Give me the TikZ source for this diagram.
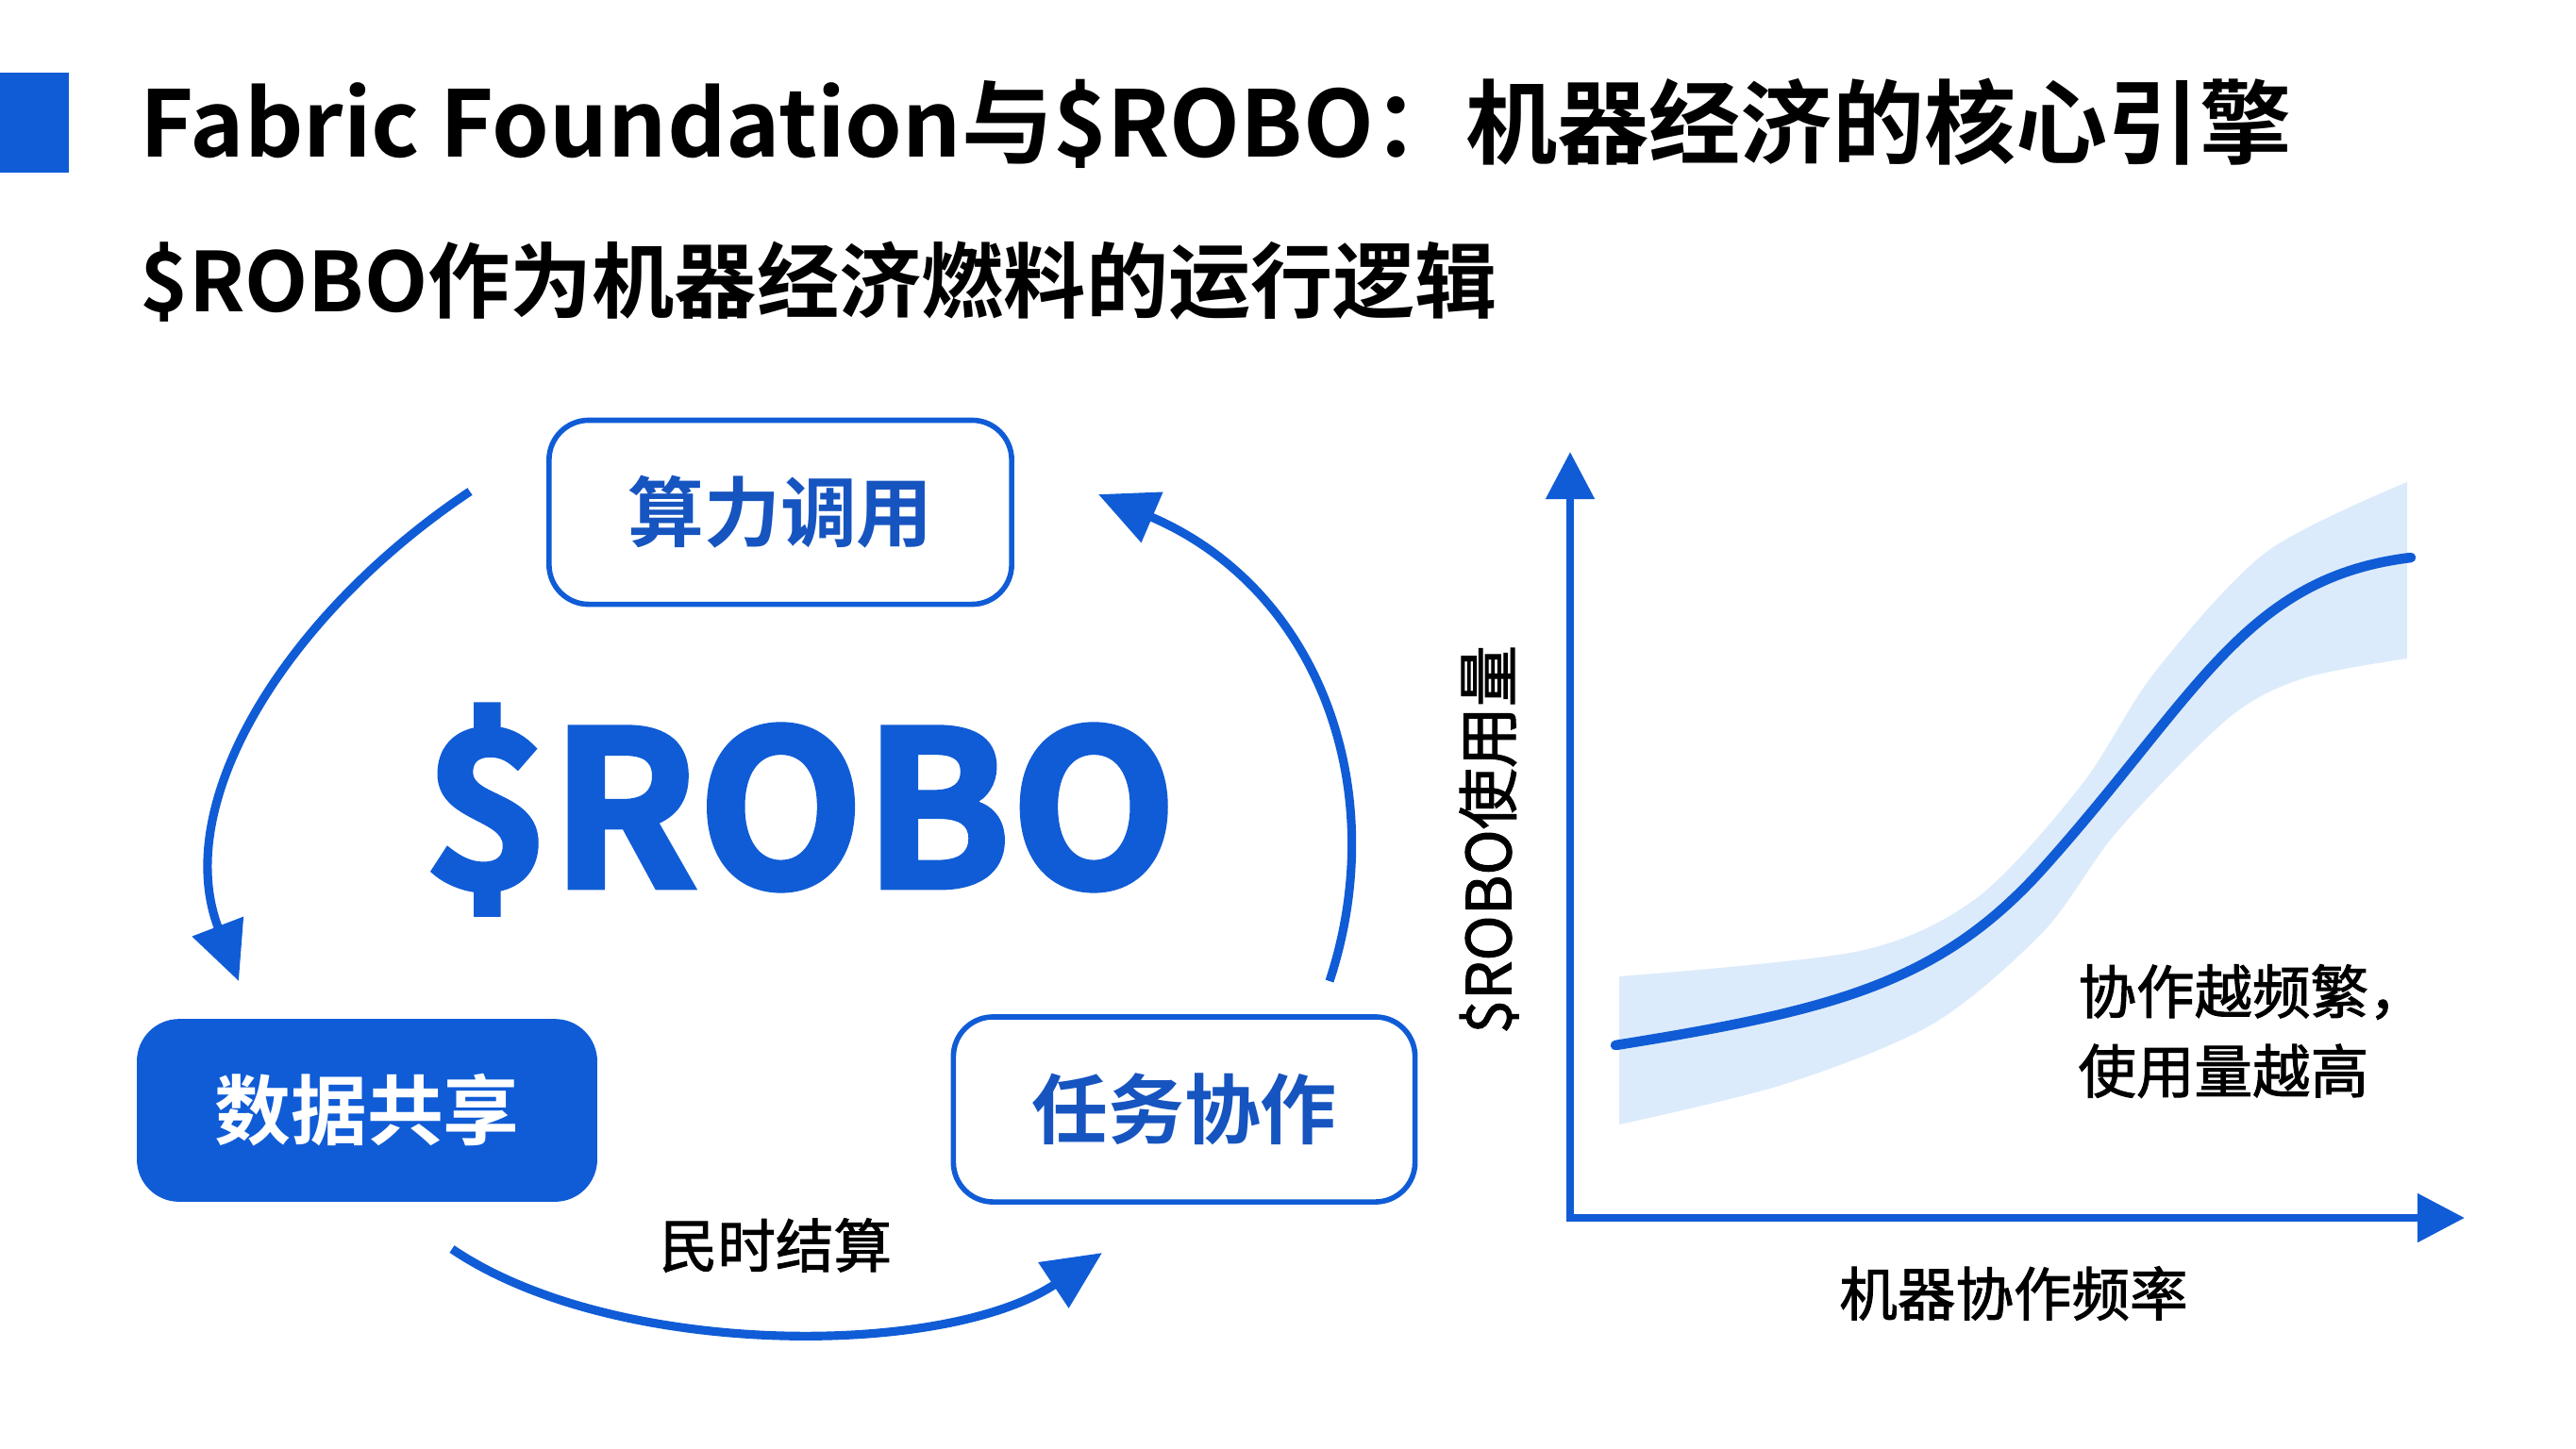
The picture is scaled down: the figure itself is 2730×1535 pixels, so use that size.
\documentclass[tikz,border=0pt]{standalone}
\usepackage{fontspec}
\setmainfont{Noto Sans CJK SC}[BoldFont={* Bold}]
\newfontfamily\medfont{Noto Sans CJK SC}[FakeBold=1.6]
\newfontfamily\heavyfont{Noto Sans CJK SC}[UprightFont={* Bold}, FakeBold=2.5]
\usetikzlibrary{arrows.meta}
\definecolor{robo}{RGB}{16, 92, 214}
\definecolor{robotext}{RGB}{22, 84, 192}
\definecolor{bandblue}{RGB}{220, 235, 251}

\begin{document}
\begin{tikzpicture}[x=0.01cm, y=-0.01cm,
    box/.style={rectangle, draw=robo, line width=1.6pt, fill=white, rounded corners=0.42cm, minimum width=4.9cm, minimum height=1.95cm, font=\fontsize{23}{23}\selectfont\bfseries, text=robotext},
    cyc/.style={-{Triangle[length=0.62cm, width=0.56cm]}, line width=2.6pt, color=robo},
    axis/.style={{Triangle[length=0.5cm, width=0.5cm]}-{Triangle[length=0.5cm, width=0.5cm]}, line width=2.4pt, color=robo},
    lbl/.style={font=\fontsize{17.5}{24}\selectfont\medfont, text=black}
]
    \useasboundingbox (0,0) rectangle (2730,1535);
    \fill[white] (0,0) rectangle (2730,1535);

    \fill[robo] (0,77) rectangle (73,183);
    \node[anchor=west, inner sep=0pt, font=\fontsize{27.65}{28}\selectfont\bfseries] (title) at (148,131) {Fabric Foundation与\$ROBO：机器经济的核心引擎};
    \node[anchor=west, inner sep=0pt, font=\fontsize{24.8}{25}\selectfont\bfseries] (subtitle) at (148,299) {\$ROBO作为机器经济燃料的运行逻辑};

    \node[box] (compute) at (827,543) {算力调用};
    \node[box, fill=robo, text=white, minimum width=4.82cm, minimum height=1.88cm] (data) at (389,1177) {数据共享};
    \node[box, minimum width=4.89cm, minimum height=1.96cm] (task) at (1255,1176) {任务协作};
    \node[font=\fontsize{65}{65}\selectfont\heavyfont, text=robo] (robo) at (848,858) {\$ROBO};

    \coordinate (la) at (498,521);
    \coordinate (lb) at (253,1040);
    \coordinate (ra) at (1409,1040);
    \coordinate (rb) at (1164,524);
    \coordinate (ba) at (479,1324);
    \coordinate (bb) at (1168,1328);
    \draw[cyc] (la) .. controls (305,650) and (180,850) .. (lb);
    \draw[cyc] (ra) .. controls (1475,840) and (1400,625) .. (rb);
    \draw[cyc] (ba) .. controls (650,1440) and (1000,1440) .. (bb);
    \node[lbl] (settle) at (822,1320) {民时结算};

    \fill[bandblue] plot[smooth] coordinates {(1716,1035) (1971,1008) (2096,951) (2206,832) (2284,712) (2402,585) (2551,511)}
        -- plot[smooth] coordinates {(2551,698) (2441,719) (2362,761) (2244,881) (2166,987) (2049,1085) (1892,1149) (1716,1192)} -- cycle;
    \draw[robo, line width=3pt, line cap=round] (1712,1108) .. controls (1950,1070) and (2060,1040) .. (2170,915) .. controls (2330,735) and (2380,612) .. (2555,591);

    \coordinate (ytop) at (1664,479);
    \coordinate (origin) at (1664,1291);
    \coordinate (xend) at (2612,1291);
    \draw[axis] (ytop) -- (origin) -- (xend);
    \node[lbl, font=\fontsize{18.5}{18}\selectfont\medfont, rotate=90] (ylabel) at (1578,890) {\$ROBO使用量};
    \node[lbl] (xlabel) at (2134,1371) {机器协作频率};
    \node[lbl, anchor=west, align=left] (note) at (2190,1093) {协作越频繁，\\使用量越高};
\end{tikzpicture}
\end{document}
